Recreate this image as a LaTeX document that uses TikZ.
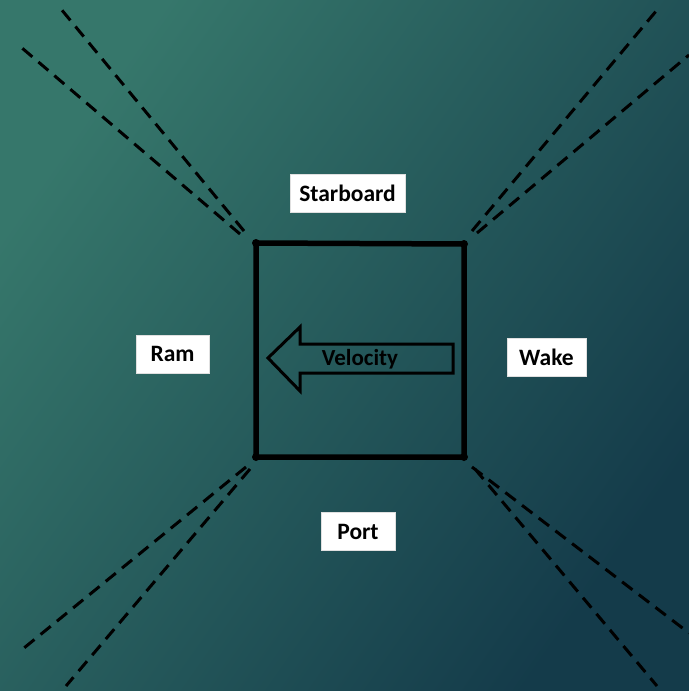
\documentclass[tikz,border=0pt]{standalone}
\usepackage{fontspec}
\setmainfont{Carlito}
\usetikzlibrary{positioning}
\definecolor{seaLight}{HTML}{36776B}
\definecolor{seaDark}{HTML}{143B4A}

\begin{document}
\begin{tikzpicture}[x=1bp, y=-1bp, font=\fontsize{23.5bp}{28bp}\selectfont\bfseries,
  tag/.style={fill=white, draw=black!12, line width=0.5bp, minimum height=38bp, inner sep=0pt},
  hull/.style={draw=black, line width=5.5bp, line cap=round, line join=miter},
  trail/.style={draw=black, line width=3bp, dash pattern=on 13bp off 8bp}]
% background
\shade[top color=seaLight, bottom color=seaDark, shading angle=55]
  (0,0) rectangle (689,691);
\useasboundingbox (0,0) rectangle (689,691);

% box
\coordinate (nw) at (256,243);
\coordinate (ne) at (464,244);
\coordinate (se) at (464,457);
\coordinate (sw) at (256,457);
\draw[hull] (nw) -- (ne) -- (se) -- (sw) -- cycle;
\foreach \c in {nw,ne,se,sw} \fill (\c) circle (4bp);

% trails off the corners
\coordinate (nwa) at (244,231); \coordinate (nwa') at (61,9);
\coordinate (nwb) at (240,234); \coordinate (nwb') at (22,48);
\coordinate (nea) at (472,231); \coordinate (nea') at (657,10);
\coordinate (neb) at (477,233); \coordinate (neb') at (689,55);
\coordinate (swa) at (246,467); \coordinate (swa') at (24,648);
\coordinate (swb) at (250,469); \coordinate (swb') at (66,686);
\coordinate (sea) at (472,467); \coordinate (sea') at (689,633);
\coordinate (seb) at (475,469); \coordinate (seb') at (657,686);
\path[trail] (nwa) -- (nwa') (nwb) -- (nwb')
  (nea) -- (nea') (neb) -- (neb')
  (swa) -- (swa') (swb) -- (swb')
  (sea) -- (sea') (seb) -- (seb');

% velocity arrow
\draw[line width=3bp, line join=miter] (268,358) -- (300,327) -- (300,344) -- (453,344)
  -- (453,373) -- (300,373) -- (300,391) -- cycle;
\node[font=\fontsize{23bp}{27bp}\selectfont\bfseries] (velocity) at (360,359) {Velocity};

% labels
\node[tag, minimum width=115bp] (starboard) at (347.5,193.5) {Starboard};
\node[tag, minimum width=73bp] (ram) at (172.5,354) {Ram};
\node[tag, minimum width=79bp] (wake) at (546.5,357) {Wake};
\node[tag, minimum width=74bp] (port) at (358,531.5) {Port};
\end{tikzpicture}
\end{document}
